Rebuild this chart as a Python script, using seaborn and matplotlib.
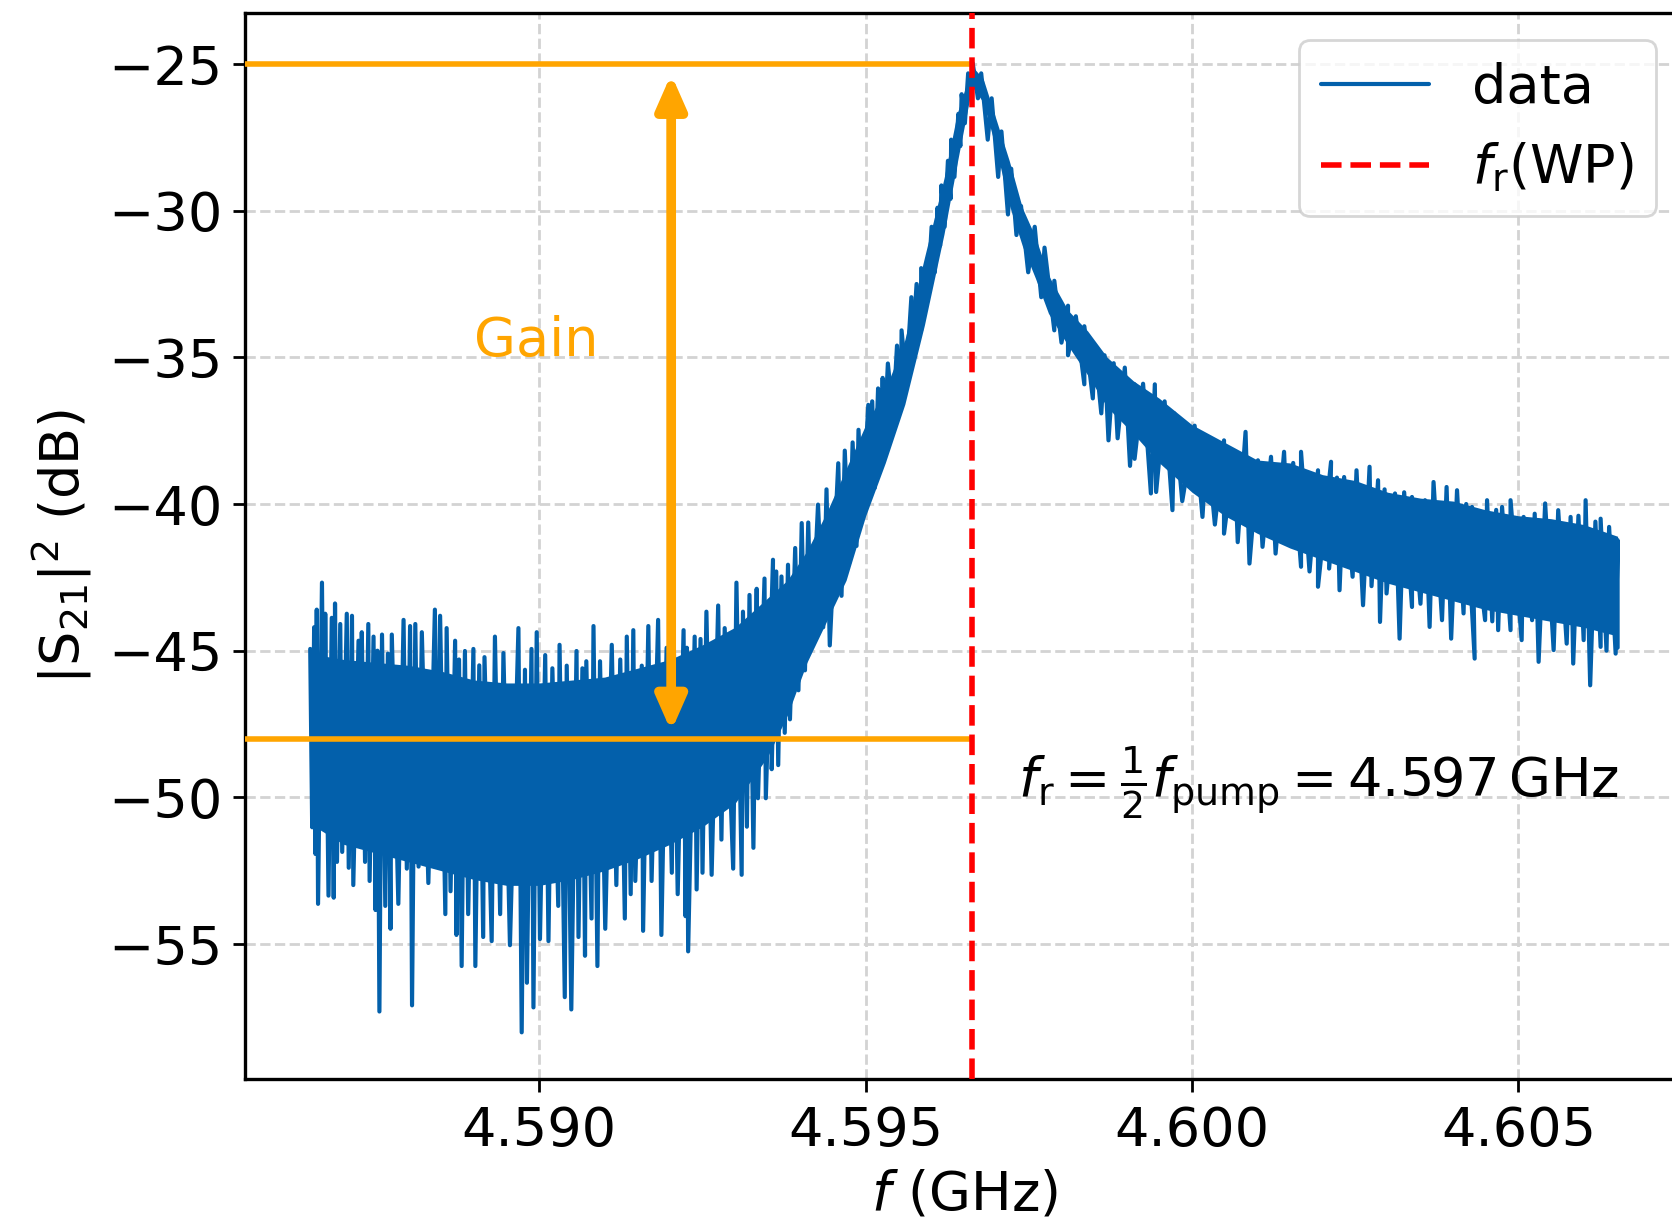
import numpy as np
import pandas as pd
import matplotlib
matplotlib.use("Agg")
import matplotlib.pyplot as plt
import seaborn as sns

# ---------------- data ----------------
# measured trace, sampled at its upper / lower noise excursions (GHz, dB)
trace_f = [
    4.58649, 4.58652, 4.58655, 4.58657, 4.58659, 4.58661, 4.58667, 4.58670, 4.58672, 4.58677,
    4.58682, 4.58685, 4.58687, 4.58690, 4.58695, 4.58698, 4.58705, 4.58708, 4.58713, 4.58715,
    4.58723, 4.58726, 4.58728, 4.58733, 4.58738, 4.58740, 4.58746, 4.58749, 4.58752, 4.58755,
    4.58759, 4.58764, 4.58768, 4.58772, 4.58774, 4.58784, 4.58792, 4.58797, 4.58802, 4.58805,
    4.58810, 4.58815, 4.58820, 4.58830, 4.58840, 4.58843, 4.58848, 4.58856, 4.58858, 4.58864,
    4.58871, 4.58873, 4.58877, 4.58881, 4.58886, 4.58891, 4.58899, 4.58902, 4.58908, 4.58914,
    4.58916, 4.58927, 4.58932, 4.58940, 4.58945, 4.58955, 4.58968, 4.58973, 4.58978, 4.58981,
    4.58988, 4.58991, 4.58996, 4.59001, 4.59009, 4.59014, 4.59020, 4.59029, 4.59031, 4.59039,
    4.59042, 4.59049, 4.59057, 4.59060, 4.59066, 4.59070, 4.59072, 4.59080, 4.59083, 4.59089,
    4.59093, 4.59101, 4.59111, 4.59118, 4.59124, 4.59131, 4.59134, 4.59140, 4.59144, 4.59147,
    4.59157, 4.59159, 4.59167, 4.59172, 4.59182, 4.59187, 4.59195, 4.59203, 4.59206, 4.59212,
    4.59221, 4.59224, 4.59226, 4.59228, 4.59238, 4.59241, 4.59247, 4.59250, 4.59256, 4.59264,
    4.59274, 4.59279, 4.59284, 4.59297, 4.59302, 4.59310, 4.59312, 4.59318, 4.59322, 4.59328,
    4.59333, 4.59335, 4.59345, 4.59347, 4.59358, 4.59356, 4.59363, 4.59366, 4.59371, 4.59376,
    4.59381, 4.59384, 4.59392, 4.59397, 4.59402, 4.59407, 4.59412, 4.59417, 4.59427, 4.59435,
    4.59440, 4.59445, 4.59458, 4.59463, 4.59468, 4.59475, 4.59480, 4.59486, 4.59489, 4.59495,
    4.59504, 4.59504, 4.59510, 4.59514, 4.59519, 4.59522, 4.59526, 4.59529, 4.59534, 4.59542,
    4.59548, 4.59554, 4.59555, 4.59562, 4.59570, 4.59570, 4.59578, 4.59585, 4.59585, 4.59595,
    4.59601, 4.59606, 4.59610, 4.59614, 4.59616, 4.59621, 4.59626, 4.59630, 4.59631, 4.59636,
    4.59642, 4.59645, 4.59647, 4.59652, 4.59657, 4.59662, 4.59664, 4.59672, 4.59677, 4.59687,
    4.59693, 4.59703, 4.59708, 4.59718, 4.59723, 4.59731, 4.59738, 4.59749, 4.59759, 4.59769,
    4.59774, 4.59789, 4.59789, 4.59800, 4.59810, 4.59810, 4.59822, 4.59835, 4.59835, 4.59848,
    4.59851, 4.59861, 4.59866, 4.59872, 4.59880, 4.59886, 4.59897, 4.59905, 4.59912, 4.59912,
    4.59925, 4.59937, 4.59943, 4.59945, 4.59958, 4.59970, 4.59973, 4.59985, 4.60004, 4.60016,
    4.60023, 4.60035, 4.60049, 4.60049, 4.60065, 4.60070, 4.60082, 4.60088, 4.60101, 4.60108,
    4.60121, 4.60128, 4.60141, 4.60147, 4.60155, 4.60167, 4.60167, 4.60180, 4.60193, 4.60193,
    4.60213, 4.60210, 4.60222, 4.60226, 4.60233, 4.60246, 4.60252, 4.60262, 4.60272, 4.60275,
    4.60285, 4.60288, 4.60295, 4.60298, 4.60311, 4.60318, 4.60325, 4.60337, 4.60337, 4.60350,
    4.60357, 4.60364, 4.60370, 4.60383, 4.60390, 4.60397, 4.60406, 4.60416, 4.60420, 4.60433,
    4.60429, 4.60449, 4.60452, 4.60460, 4.60466, 4.60469, 4.60475, 4.60488, 4.60488, 4.60505,
    4.60508, 4.60521, 4.60525, 4.60531, 4.60541, 4.60554, 4.60561, 4.60574, 4.60580, 4.60584,
    4.60592, 4.60600, 4.60603, 4.60610, 4.60618, 4.60626, 4.60626, 4.60635, 4.60639, 4.60649,
    4.60652, 4.60652,
]
trace_db = [
    -44.94, -51.02, -44.20, -51.93, -43.60, -53.63, -42.68, -50.10, -43.74, -53.35,
    -43.88, -53.42, -43.39, -52.20, -44.09, -51.86, -43.74, -52.40, -43.81, -52.99,
    -44.66, -51.02, -44.37, -52.20, -44.09, -52.85, -44.52, -53.84, -45.00, -57.30,
    -44.45, -53.70, -45.10, -54.48, -44.45, -53.63, -43.95, -52.43, -44.16, -57.09,
    -44.09, -52.36, -44.37, -52.92, -43.60, -51.86, -43.81, -53.98, -44.23, -53.20,
    -44.66, -54.69, -45.30, -55.75, -45.01, -53.98, -44.94, -55.75, -45.50, -54.76,
    -45.22, -54.90, -44.52, -53.98, -45.08, -55.04, -44.23, -58.01, -45.65, -56.32,
    -44.94, -57.16, -44.37, -54.83, -45.15, -54.90, -45.60, -53.70, -44.80, -56.81,
    -45.51, -57.23, -45.01, -54.76, -45.60, -55.40, -45.36, -54.13, -44.16, -55.75,
    -45.36, -54.48, -44.80, -52.99, -45.30, -54.13, -44.52, -53.30, -44.30, -52.85,
    -45.51, -54.55, -44.16, -52.85, -43.95, -54.69, -44.90, -52.57, -44.66, -53.30,
    -44.30, -54.05, -44.90, -55.25, -44.52, -53.14, -44.60, -52.57, -43.67, -52.64,
    -43.46, -51.44, -44.23, -52.43, -42.68, -52.64, -43.67, -51.00, -43.10, -51.72,
    -42.89, -50.03, -42.54, -50.03, -41.90, -49.04, -42.30, -48.90, -42.47, -47.80,
    -42.07, -47.34, -41.50, -46.35, -40.65, -45.67, -40.63, -44.82, -40.02, -44.20,
    -39.50, -44.82, -38.61, -43.13, -38.18, -42.00, -37.90, -41.43, -37.47, -40.40,
    -36.62, -39.59, -36.50, -39.45, -36.06, -38.30, -35.70, -37.62, -35.21, -37.00,
    -34.60, -36.77, -34.08, -35.80, -32.95, -35.35, -32.50, -34.08, -31.96, -32.90,
    -30.55, -32.10, -29.90, -31.20, -29.14, -30.55, -28.30, -29.60, -27.58, -28.85,
    -26.70, -27.80, -26.03, -27.02, -25.32, -26.03, -24.97, -26.17, -25.32, -27.58,
    -26.17, -28.85, -27.30, -30.13, -28.57, -30.83, -29.84, -32.10, -30.55, -32.95,
    -31.26, -34.08, -32.39, -34.50, -33.24, -34.93, -33.60, -35.92, -33.94, -36.40,
    -34.65, -36.91, -34.93, -37.83, -35.20, -37.76, -35.35, -38.70, -35.92, -38.46,
    -35.90, -39.64, -35.92, -39.59, -36.50, -40.21, -36.91, -39.90, -37.33, -40.44,
    -37.83, -40.70, -37.83, -41.01, -38.20, -41.30, -37.54, -42.03, -38.51, -41.46,
    -38.39, -41.69, -38.22, -41.35, -38.60, -42.14, -38.22, -42.30, -38.85, -42.82,
    -38.56, -42.20, -39.10, -42.94, -39.08, -42.48, -38.85, -43.45, -38.73, -42.80,
    -39.19, -44.02, -39.50, -43.05, -39.64, -44.59, -39.60, -43.51, -39.76, -43.40,
    -39.87, -44.19, -39.25, -43.96, -39.42, -44.59, -39.53, -43.73, -40.00, -45.27,
    -40.10, -43.96, -39.87, -44.00, -40.20, -44.30, -40.10, -44.30, -39.87, -44.64,
    -40.44, -43.96, -40.33, -45.38, -39.98, -44.98, -40.21, -44.76, -40.44, -45.44,
    -40.40, -44.64, -39.87, -46.18, -40.60, -44.87, -40.50, -45.00, -40.78, -45.10,
    -41.23, -44.90,
]

# dense (solid) part of the noise band (GHz, lower dB, upper dB)
core_f = [4.58649, 4.5870, 4.5875, 4.5880, 4.5885, 4.5890, 4.5895, 4.5900, 4.5905, 4.5910,
          4.5915, 4.5920, 4.5925, 4.5930, 4.5935, 4.5938, 4.5941, 4.5944, 4.5947, 4.5950,
          4.5953, 4.5956, 4.5959, 4.5962, 4.5964, 4.5966, 4.59664, 4.5968, 4.5970, 4.5972,
          4.5974, 4.5976, 4.5978, 4.5981, 4.5984, 4.5987, 4.5991, 4.5995, 4.6000, 4.6005,
          4.6010, 4.6015, 4.6020, 4.6025, 4.6030, 4.6035, 4.6040, 4.6045, 4.6050, 4.6055,
          4.6060, 4.60652]
core_lo = [-50.9, -51.6, -51.9, -52.2, -52.5, -52.8, -53.0, -53.0, -52.8, -52.5,
           -52.1, -51.6, -51.0, -50.2, -48.6, -47.2, -45.4, -44.0, -42.6, -40.4,
           -38.6, -36.6, -33.9, -30.8, -28.4, -26.1, -25.8, -26.3, -27.9, -29.8,
           -31.2, -32.3, -33.5, -34.6, -35.6, -36.7, -37.6, -38.6, -39.6, -40.4,
           -41.0, -41.5, -41.9, -42.3, -42.7, -43.0, -43.3, -43.6, -43.8, -44.0,
           -44.2, -44.5]
core_hi = [-45.1, -45.3, -45.4, -45.5, -45.7, -46.0, -46.1, -46.1, -46.0, -45.9,
           -45.6, -45.3, -44.8, -44.2, -43.2, -42.6, -41.6, -40.3, -38.8, -37.3,
           -36.1, -34.4, -31.6, -28.9, -26.7, -25.3, -25.1, -25.5, -26.9, -28.3,
           -29.9, -30.9, -32.2, -33.4, -34.1, -35.0, -35.8, -36.4, -37.3, -37.9,
           -38.5, -38.6, -39.0, -39.2, -39.6, -39.8, -39.9, -40.2, -40.4, -40.5,
           -40.7, -41.1]

F_R = 4.59663            # working-point resonance (GHz)
GAIN_TOP = -25.0         # dB
GAIN_BOTTOM = -48.0      # dB
ARROW_F = 4.59202        # GHz
ARROW_TOP = -25.35
ARROW_BOTTOM = -47.75
GAIN_TEXT_POS = (4.58995, -34.95)
FR_TEXT_POS = (4.59733, -50.0)

x_ticks = [4.590, 4.595, 4.600, 4.605]
x_ticklabels = ["4.590", "4.595", "4.600", "4.605"]
y_ticks = [-25, -30, -35, -40, -45, -50, -55]
x_limits = (4.58549, 4.60752)
y_limits = (-59.6, -23.26)

# ---------------- styling ----------------
sns.set_theme(style="ticks")
plt.rcParams["font.family"] = ["DejaVu Sans"]
plt.rcParams["mathtext.fontset"] = "dejavusans"
plt.rcParams["text.color"] = "black"
plt.rcParams["axes.labelcolor"] = "black"

FS = 19.5
BLUE = "#0360AB"

fig = plt.figure(figsize=(8.36, 6.16), dpi=200)
fig.patch.set_facecolor("white")
ax = fig.add_axes([0.1465, 0.1242, 0.8600, 0.8653])
ax.set_facecolor("white")

df = pd.DataFrame({"f": trace_f, "db": trace_db})
sns.lineplot(data=df, x="f", y="db", sort=False, estimator=None,
             color=BLUE, lw=1.5, label="data", ax=ax, zorder=2)
ax.fill_between(core_f, core_lo, core_hi, color=BLUE, lw=0, zorder=2)

ax.axvline(F_R, color="red", ls="--", lw=2, label=r"$f_\mathrm{r}$(WP)", zorder=4)

ax.set_xlim(*x_limits)
ax.set_ylim(*y_limits)

xl = ax.get_xlim()[0]
ax.hlines([GAIN_TOP, GAIN_BOTTOM], xl, F_R, color="orange", lw=2, zorder=3)

ax.annotate("", xy=(ARROW_F, ARROW_TOP), xytext=(ARROW_F, ARROW_BOTTOM),
            arrowprops=dict(arrowstyle="<|-|>,head_length=0.5,head_width=0.22",
                            color="orange", lw=3.5, mutation_scale=20,
                            shrinkA=0, shrinkB=0, joinstyle="round",
                            capstyle="round"),
            zorder=5)

ax.text(*GAIN_TEXT_POS, "Gain", color="orange", fontsize=FS,
        ha="center", va="baseline")
ax.text(*FR_TEXT_POS,
        r"$f_\mathrm{r} = \frac{1}{2}f_\mathrm{pump} = 4.597\,\mathrm{GHz}$",
        fontsize=FS, ha="left", va="baseline", color="black")

ax.set_xticks(x_ticks)
ax.set_xticklabels(x_ticklabels)
ax.set_yticks(y_ticks)
ax.tick_params(labelsize=FS, length=4.5, width=1.0, direction="out",
               colors="black", bottom=True, left=True)
ax.tick_params(axis="x", pad=5)
ax.grid(True, ls="--", color="#d3d3d3", lw=1.0)
ax.set_axisbelow(True)
for s in ax.spines.values():
    s.set_visible(True)
    s.set_color("black")
    s.set_linewidth(1.2)

ax.set_xlabel(r"$f$ (GHz)", fontsize=FS, color="black", labelpad=4)
ax.set_ylabel(r"$|\mathrm{S}_{21}|^2$ (dB)", fontsize=FS, color="black", labelpad=5)

leg = ax.legend(loc="upper right", fontsize=FS, frameon=True, fancybox=True,
                framealpha=0.8, edgecolor="0.8")
leg.get_frame().set_linewidth(1.0)
for t in leg.get_texts():
    t.set_color("black")

fig.savefig("out.png", dpi=200, facecolor="white")
